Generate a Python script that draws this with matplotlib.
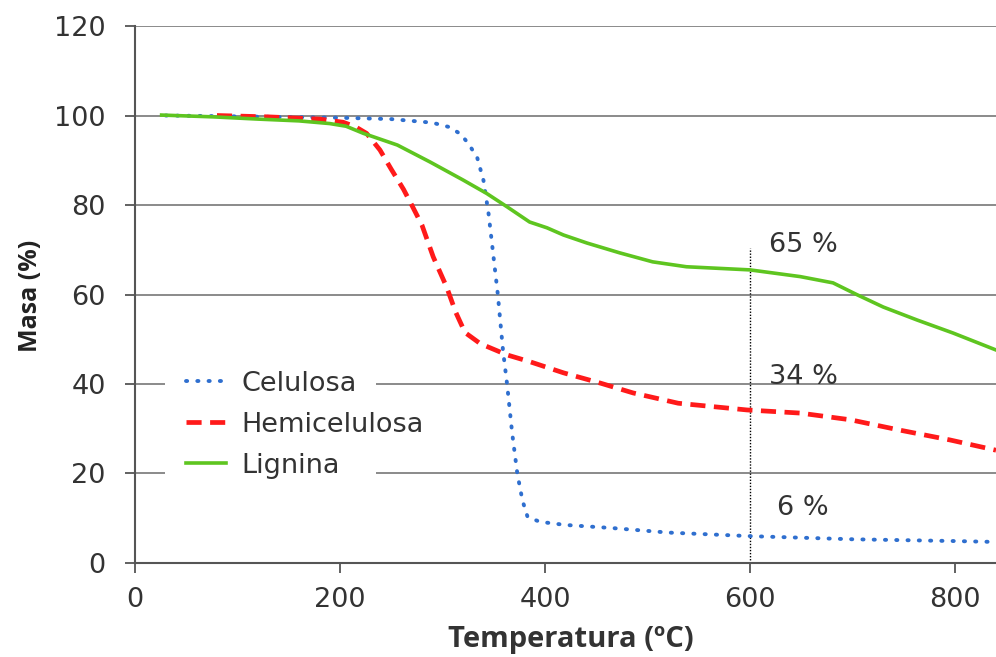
import matplotlib
matplotlib.use("Agg")
import matplotlib.pyplot as plt
from matplotlib.patches import Rectangle

plt.rcParams['font.family'] = ['DejaVu Sans']

# curvas TGA
celulosa_t = [30, 100, 200, 250, 290, 307, 318, 326, 334, 340, 345, 350, 354, 359,
              363, 368, 373, 378, 383, 395, 420, 466, 520, 600, 700, 800, 840]
celulosa_m = [100, 99.8, 99.5, 99.2, 98.4, 97.4, 95.8, 93.5, 90.5, 85.5, 78, 68, 60, 47.6,
              40, 29, 20, 14, 10.3, 9.2, 8.5, 7.8, 6.8, 6.0, 5.3, 4.9, 4.7]

hemi_t = [80, 130, 180, 203, 215, 226, 239, 250, 262, 270, 280, 291, 304, 313, 322,
          337, 363, 385, 418, 454, 486, 530, 597, 649, 698, 746, 795, 840]
hemi_m = [100, 99.7, 99.2, 98.5, 97.5, 96, 92.3, 88, 83.5, 80, 75.5, 68.4, 61.7, 56, 51.5,
          49, 46.5, 45, 42.5, 40.2, 38, 35.7, 34.2, 33.5, 32, 29.7, 27.5, 25.2]

lignina_t = [26, 76, 120, 160, 190, 206, 223, 256, 288, 320, 343, 363, 385, 402, 418,
             441, 473, 505, 538, 600, 649, 681, 704, 730, 763, 798, 840]
lignina_m = [100.1, 99.7, 99.2, 98.8, 98.2, 97.6, 96, 93.4, 89.6, 85.6, 82.6, 79.6, 76.2,
             74.9, 73.3, 71.5, 69.3, 67.3, 66.2, 65.5, 64, 62.6, 60, 57.2, 54.3, 51.4, 47.6]

# residuo a 600 ºC
ref_t = 600
ref_top = 70.5
residuos = ["65 %", "34 %", "6 %"]
residuos_y = [71, 41.6, 12.3]
residuos_x = 652

fig = plt.figure(figsize=(9.96, 6.57), dpi=100)
ax = fig.add_axes([0.1355, 0.1431, 0.8645, 0.8173])

ax.set_xlim(0, 840)
ax.set_ylim(0, 120)
ax.set_xticks([0, 200, 400, 600, 800])
ax.set_yticks([0, 20, 40, 60, 80, 100, 120])

ax.yaxis.grid(True, color='#8a8a8a', linewidth=1.4, zorder=0)
ax.set_axisbelow(True)
for s in ['top', 'right']:
    ax.spines[s].set_visible(False)
for s in ['left', 'bottom']:
    ax.spines[s].set_color('#555555')
    ax.spines[s].set_linewidth(1.5)
ax.tick_params(axis='both', direction='out', length=7, width=1.3, color='#555555',
               labelsize=19.5, labelcolor='#333333')
ax.tick_params(axis='y', pad=14)
ax.tick_params(axis='x', pad=10)

# fondo blanco de la leyenda (tapa la rejilla)
ax.add_patch(Rectangle((0.035, 0.15), 0.245, 0.22, transform=ax.transAxes,
                       facecolor='white', edgecolor='none', zorder=1.5))

ax.plot(celulosa_t, celulosa_m, color='#2f6fcf', linewidth=2.8, linestyle=(0, (0.3, 2.6)),
        dash_capstyle='round', label='Celulosa', zorder=3)
ax.plot(hemi_t, hemi_m, color='#ff1a1a', linewidth=3.4, linestyle=(0, (3.2, 1.8)),
        label='Hemicelulosa', zorder=3)
ax.plot(lignina_t, lignina_m, color='#5ec520', linewidth=2.6, label='Lignina', zorder=3)

ax.plot([ref_t, ref_t], [0, ref_top], color='black', linewidth=1, linestyle=(0, (1, 1.2)), zorder=2)
for txt, y in zip(residuos, residuos_y):
    ax.text(residuos_x, y, txt, fontsize=19.5, color='#333333', ha='center', va='center', zorder=4)

leg = ax.legend(loc='upper left', bbox_to_anchor=(0.043, 0.383), frameon=False,
                fontsize=19.5, handlelength=1.5, handletextpad=0.55, labelspacing=0.55,
                borderpad=0)
for t in leg.get_texts():
    t.set_color('#333333')

ax.set_xlabel('Temperatura (ºC)', fontsize=21, fontweight='bold', color='#333333',
              family=['Open Sans', 'DejaVu Sans'])
ax.xaxis.set_label_coords(0.506, -0.116)
ax.set_ylabel('Masa (%)', fontsize=18, fontweight='bold', color='#222222',
              family=['Open Sans', 'DejaVu Sans'])
ax.yaxis.set_label_coords(-0.107, 0.497)

fig.savefig('out.png', dpi=100)
